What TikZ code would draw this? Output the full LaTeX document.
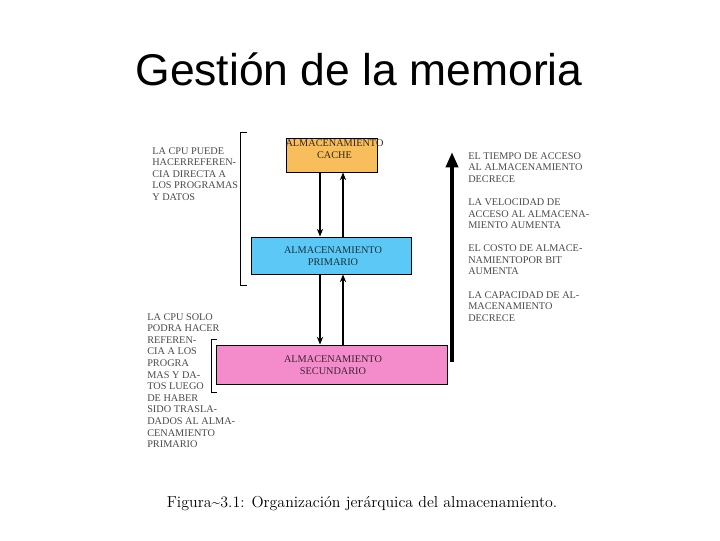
\documentclass[tikz,border=0pt]{standalone}
\usepackage{fontspec}
\newfontfamily\titlefont{Liberation Sans}
\newfontfamily\diafont{Liberation Serif}
\usetikzlibrary{arrows.meta}
\definecolor{cacheorange}{HTML}{F8BE5C}
\definecolor{primblue}{HTML}{5CC8F6}
\definecolor{secpink}{HTML}{F48CCC}
\definecolor{notegray}{HTML}{4A4A4A}
\tikzset{
  membox/.style={draw=black, line width=.7pt, inner sep=0pt},
  boxtext/.style={font=\diafont\fontsize{7.3}{8.2}\selectfont, align=center, inner sep=0pt},
  note/.style={font=\diafont\fontsize{7.3}{8.25}\selectfont, text=notegray, align=left, inner sep=0pt, anchor=north west},
  link/.style={line width=.75pt, -{Stealth[length=5.5pt,width=4.5pt]}}
}
\begin{document}
\begin{tikzpicture}[x=0.025cm, y=-0.025cm]
\useasboundingbox (0,0) rectangle (720,540);
\node[font=\titlefont\fontsize{31.6}{36}\selectfont, anchor=base] (title) at (359,85) {Gestión de la memoria};
% niveles de almacenamiento
\node[membox, fill=cacheorange, minimum width=2.275cm, minimum height=.85cm] (cache) at (331.5,155) {};
\node[boxtext, text=cacheorange!20!black] (cachetxt) at (334.5,149) {ALMACENAMIENTO\\CACHE};
\node[membox, fill=primblue, minimum width=3.975cm, minimum height=.925cm] (prim) at (331.5,255.5) {};
\node[boxtext, text=primblue!25!black] (primtxt) at (333,256) {ALMACENAMIENTO\\PRIMARIO};
\node[membox, fill=secpink, minimum width=5.75cm, minimum height=.975cm] (sec) at (332,364.5) {};
\node[boxtext, text=secpink!25!black] (sectxt) at (333,365) {ALMACENAMIENTO\\SECUNDARIO};
\coordinate (dn) at (320,0); \coordinate (up) at (343,0);
\draw[link] (cache.south -| dn) -- (prim.north -| dn); \draw[link] (prim.north -| up) -- (cache.south -| up);
\draw[link] (prim.south -| dn) -- (sec.north -| dn); \draw[link] (sec.north -| up) -- (prim.south -| up);
% corchetes
\draw[line width=.7pt] (247,132)--(240,132)--(240,285)--(247,285);
\draw[line width=.7pt] (217,339)--(211,339)--(211,392)--(217,392);
\node[note] (cpudir) at (152,147) {LA CPU PUEDE\\HACERREFEREN-\\CIA DIRECTA A\\LOS PROGRAMAS\\Y DATOS};
\node[note] (cpusolo) at (147,313) {LA CPU SOLO\\PODRA HACER\\REFEREN-\\CIA A LOS\\PROGRA\\MAS Y DA-\\TOS LUEGO\\DE HABER\\SIDO TRASLA-\\DADOS AL ALMA-\\CENAMIENTO\\PRIMARIO};
% flecha de jerarquia
\coordinate (abajo) at (452,362); \coordinate (arriba) at (452,152);
\draw[line width=2.9pt, -{Triangle[length=11pt,width=8.5pt]}] (abajo) -- (arriba);
\node[note] (props) at (468,152) {EL TIEMPO DE ACCESO\\AL ALMACENAMIENTO\\DECRECE\\[8.2pt]LA VELOCIDAD DE\\ACCESO AL ALMACENA-\\MIENTO AUMENTA\\[8.2pt]EL COSTO DE ALMACE-\\NAMIENTOPOR BIT\\AUMENTA\\[8.2pt]LA CAPACIDAD DE AL-\\MACENAMIENTO\\DECRECE};
\node[anchor=base, font=\fontsize{11.3}{13}\selectfont] (caption) at (362,507) {Figura\~{}3.1: Organización jerárquica del almacenamiento.};
\end{tikzpicture}
\end{document}
